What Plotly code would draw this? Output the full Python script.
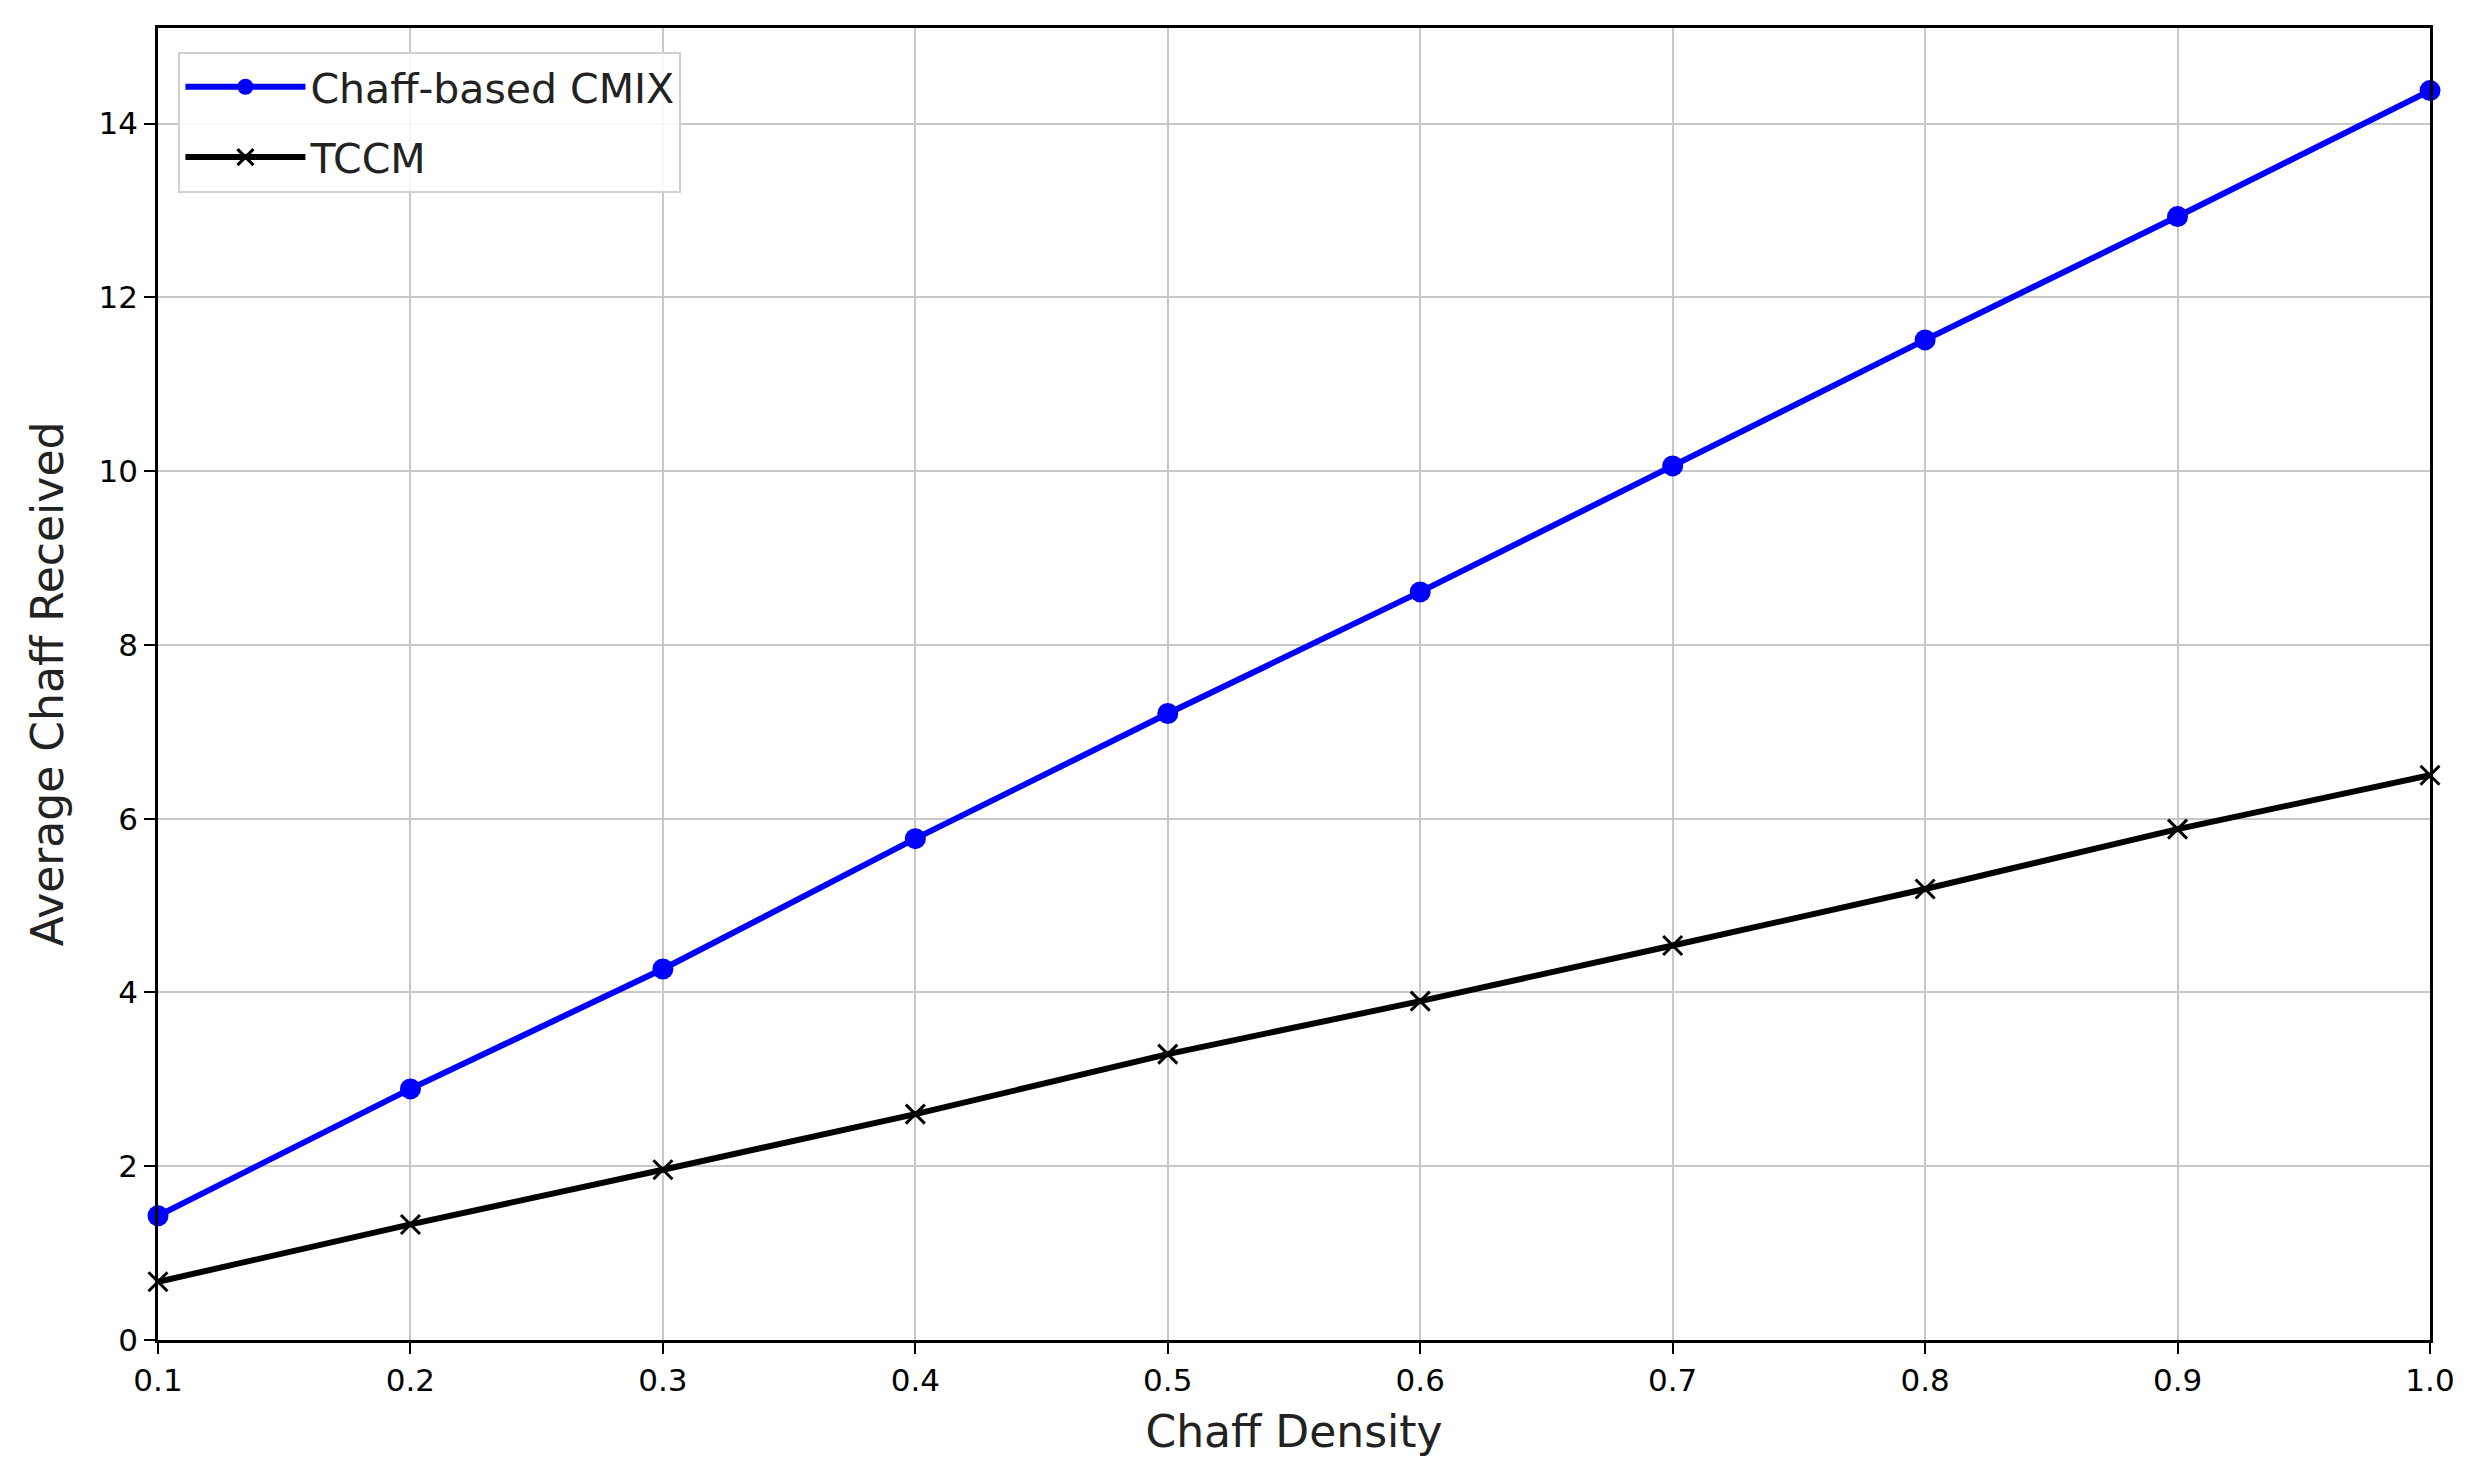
import plotly.graph_objects as go

# chaff density on the x axis
density = [0.1, 0.2, 0.3, 0.4, 0.5, 0.6, 0.7, 0.8, 0.9, 1.0]

# average chaff received
cmix = [1.43, 2.89, 4.27, 5.77, 7.21, 8.61, 10.06, 11.51, 12.93, 14.38]
tccm = [0.67, 1.33, 1.96, 2.60, 3.29, 3.90, 4.54, 5.19, 5.88, 6.50]

y_ticks = [0, 2, 4, 6, 8, 10, 12, 14]

fig = go.Figure()

fig.add_trace(go.Scatter(
    x=density, y=cmix, name='Chaff-based CMIX',
    mode='lines+markers', legendgroup='cmix',
    line=dict(color='#0000ff', width=6),
    marker=dict(symbol='circle', size=21, color='#0000ff'),
    cliponaxis=False
))

fig.add_trace(go.Scatter(
    x=density, y=tccm, name='TCCM',
    mode='lines+markers', legendgroup='tccm',
    line=dict(color='#000000', width=6),
    marker=dict(symbol='x-thin', size=19, color='#000000',
                line=dict(color='#000000', width=3)),
    cliponaxis=False
))

axis_common = dict(
    showline=True, linecolor='black', linewidth=2.5, mirror=True,
    ticks='outside', ticklen=11, tickwidth=2, tickcolor='black',
    showgrid=True, gridcolor='#c8c8c8', gridwidth=2,
    zeroline=False,
    tickfont=dict(size=31, color='black'),
)

fig.update_xaxes(
    range=[0.1, 1.0], tickvals=density, tickformat='.1f',
    title=dict(text='Chaff Density', font=dict(size=44, color='#222'), standoff=20),
    **axis_common
)
fig.update_yaxes(
    range=[0, 15.1], tickvals=y_ticks,
    title=dict(text='Average Chaff Received', font=dict(size=44, color='#222'), standoff=22),
    **axis_common
)

fig.update_layout(
    width=2473, height=1481,
    margin=dict(l=150, r=51, t=20, b=149),
    plot_bgcolor='white', paper_bgcolor='white',
    font=dict(family='DejaVu Sans', color='black'),
    legend=dict(
        x=0.009, y=0.982, xanchor='left', yanchor='top',
        bgcolor='rgba(255,255,255,0.85)', bordercolor='#d0d0d0', borderwidth=2,
        font=dict(size=41, color='#222'),
        itemwidth=120, traceorder='grouped', tracegroupgap=14
    ),
    showlegend=True
)

fig.write_html("out.html")
